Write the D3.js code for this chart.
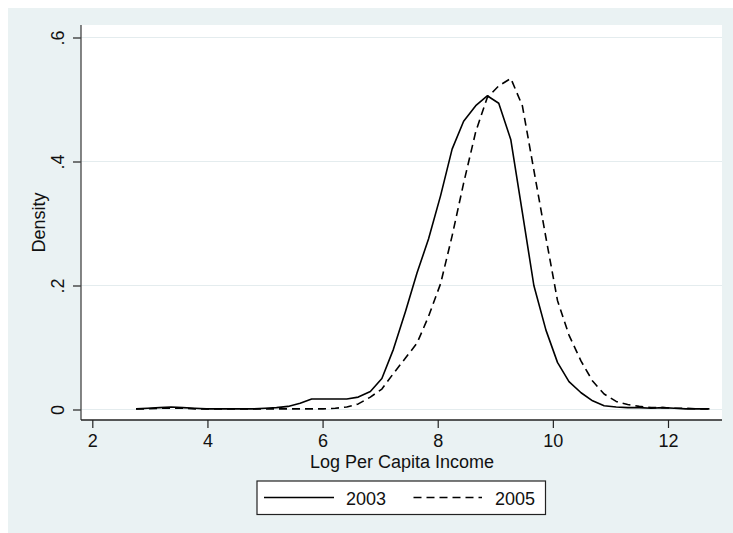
<!DOCTYPE html>
<html>
<head>
<meta charset="utf-8">
<script src="https://cdn.jsdelivr.net/npm/d3@7"></script>
<style>
  html, body { margin: 0; padding: 0; background: #ffffff; }
  svg { display: block; }
  text { font-family: "Liberation Sans", Arial, sans-serif; fill: #111; }
</style>
</head>
<body>
<svg id="chart" width="733" height="533"></svg>
<script>
// ---- Data ----
const gridX = [2.76, 2.96, 3.17, 3.37, 3.57, 3.78, 3.98, 4.18, 4.39, 4.59,
               4.79, 5.00, 5.20, 5.40, 5.61, 5.81, 6.01, 6.22, 6.42, 6.62,
               6.83, 7.03, 7.23, 7.44, 7.64, 7.84, 8.05, 8.25, 8.45, 8.66,
               8.86, 9.06, 9.27, 9.47, 9.67, 9.88, 10.08, 10.28, 10.49, 10.69,
               10.89, 11.10, 11.30, 11.50, 11.71, 11.91, 12.11, 12.31, 12.52, 12.72];

const density2003 = [0.001, 0.002, 0.003, 0.004, 0.003, 0.002, 0.001, 0.001, 0.001, 0.001,
                     0.001, 0.002, 0.003, 0.005, 0.010, 0.017, 0.017, 0.017, 0.017, 0.020,
                     0.029, 0.050, 0.097, 0.158, 0.220, 0.275, 0.345, 0.420, 0.465, 0.490,
                     0.506, 0.494, 0.435, 0.318, 0.200, 0.128, 0.076, 0.045, 0.027, 0.014,
                     0.006, 0.004, 0.003, 0.003, 0.002, 0.003, 0.002, 0.001, 0.001, 0.001];

const density2005 = [0.001, 0.001, 0.002, 0.002, 0.002, 0.001, 0.001, 0.001, 0.001, 0.001,
                     0.001, 0.001, 0.001, 0.001, 0.001, 0.001, 0.001, 0.002, 0.004, 0.009,
                     0.020, 0.033, 0.058, 0.083, 0.107, 0.150, 0.203, 0.280, 0.365, 0.448,
                     0.503, 0.522, 0.534, 0.490, 0.386, 0.277, 0.176, 0.120, 0.078, 0.046,
                     0.025, 0.013, 0.008, 0.005, 0.003, 0.003, 0.002, 0.002, 0.001, 0.001];

const seriesNames = ["2003", "2005"];
const xTicks = [2, 4, 6, 8, 10, 12];
const yTicks = [0, 0.2, 0.4, 0.6];
const yTickLabels = ["0", ".2", ".4", ".6"];
const xTitle = "Log Per Capita Income";
const yTitle = "Density";

// ---- Layout ----
const svg = d3.select("#chart");
const bg = { x: 8, y: 8, w: 725, h: 525 };
const plot = { left: 81, right: 722, top: 25, bottom: 420 };

svg.append("rect")
  .attr("x", bg.x).attr("y", bg.y).attr("width", bg.w).attr("height", bg.h)
  .attr("fill", "#EAF2F3");

svg.append("rect")
  .attr("x", plot.left).attr("y", plot.top)
  .attr("width", plot.right - plot.left).attr("height", plot.bottom - plot.top)
  .attr("fill", "#ffffff");

const x = d3.scaleLinear().domain([2, 12]).range([92.3, 668]);
const y = d3.scaleLinear().domain([0, 0.6]).range([409.5, 37.5]);

// gridlines
svg.append("g").selectAll("line").data(yTicks).join("line")
  .attr("x1", plot.left).attr("x2", plot.right)
  .attr("y1", d => y(d)).attr("y2", d => y(d))
  .attr("stroke", "#E4ECEE").attr("stroke-width", 1.2);

// axes
const xAxis = svg.append("g")
  .attr("transform", `translate(0,${plot.bottom})`)
  .call(d3.axisBottom(x).tickValues(xTicks).tickSize(8).tickPadding(6).tickFormat(d3.format("d")));
xAxis.select(".domain").remove();
xAxis.selectAll(".tick line").attr("stroke", "#222").attr("stroke-width", 1.2);
xAxis.selectAll(".tick text")
  .attr("font-size", 18).attr("font-family", "Liberation Sans, Arial, sans-serif")
  .attr("fill", "#111").attr("dy", "0.71em");

const yAxis = svg.append("g")
  .attr("transform", `translate(${plot.left},0)`)
  .call(d3.axisLeft(y).tickValues(yTicks).tickSize(8).tickFormat((d, i) => yTickLabels[i]));
yAxis.select(".domain").remove();
yAxis.selectAll(".tick line").attr("stroke", "#222").attr("stroke-width", 1.2);
yAxis.selectAll(".tick text")
  .attr("font-size", 18).attr("font-family", "Liberation Sans, Arial, sans-serif")
  .attr("fill", "#111")
  .attr("x", null).attr("dy", null)
  .attr("text-anchor", "middle")
  .attr("transform", "translate(-17,0) rotate(-90)");

svg.append("line")
  .attr("x1", plot.left).attr("x2", plot.left)
  .attr("y1", plot.top).attr("y2", plot.bottom)
  .attr("stroke", "#444").attr("stroke-width", 1.3);
svg.append("line")
  .attr("x1", plot.left).attr("x2", plot.right)
  .attr("y1", plot.bottom).attr("y2", plot.bottom)
  .attr("stroke", "#222").attr("stroke-width", 1.3);

// titles
svg.append("text")
  .attr("x", (plot.left + plot.right) / 2 + 0.5).attr("y", 467.8)
  .attr("text-anchor", "middle").attr("font-size", 18)
  .text(xTitle);
svg.append("text")
  .attr("transform", `translate(45,${(plot.top + plot.bottom) / 2}) rotate(-90)`)
  .attr("text-anchor", "middle").attr("font-size", 18)
  .text(yTitle);

// lines
const line = d3.line().x(d => x(d[0])).y(d => y(d[1]));
const s2003 = gridX.map((v, i) => [v, density2003[i]]);
const s2005 = gridX.map((v, i) => [v, density2005[i]]);
const dashes = ["none", "8,5"];

svg.append("path").datum(s2005).attr("d", line)
  .attr("fill", "none").attr("stroke", "#000").attr("stroke-width", 1.6)
  .attr("stroke-dasharray", dashes[1]).attr("stroke-linejoin", "round");
svg.append("path").datum(s2003).attr("d", line)
  .attr("fill", "none").attr("stroke", "#000").attr("stroke-width", 1.6)
  .attr("stroke-linejoin", "round");

// legend
const lg = svg.append("g");
lg.append("rect")
  .attr("x", 257).attr("y", 481).attr("width", 288.5).attr("height", 33.5)
  .attr("fill", "#fff").attr("stroke", "#222").attr("stroke-width", 1.2);
const legendItems = [
  { name: seriesNames[0], dash: dashes[0], x1: 264, x2: 334, tx: 346 },
  { name: seriesNames[1], dash: dashes[1], x1: 413.5, x2: 482, tx: 495 }
];
legendItems.forEach(it => {
  lg.append("line")
    .attr("x1", it.x1).attr("x2", it.x2).attr("y1", 497.5).attr("y2", 497.5)
    .attr("stroke", "#000").attr("stroke-width", 1.6)
    .attr("stroke-dasharray", it.dash);
  lg.append("text")
    .attr("x", it.tx).attr("y", 504.5).attr("font-size", 18)
    .text(it.name);
});
</script>
</body>
</html>
